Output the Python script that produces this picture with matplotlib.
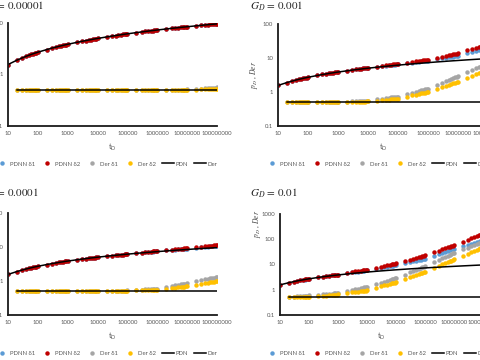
import matplotlib
matplotlib.use("Agg")
import matplotlib.pyplot as plt

plt.rcParams['font.family'] = ['Lato', 'DejaVu Sans']
plt.rcParams['mathtext.fontset'] = 'stix'

# dimensionless time (log spaced, 1..9 x each decade)
t_d = [10, 20, 30, 40, 50, 60, 70, 80, 90,
       100, 200, 300, 400, 500, 600, 700, 800, 900,
       1000, 2000, 3000, 4000, 5000, 6000, 7000, 8000, 9000,
       10000, 20000, 30000, 40000, 50000, 60000, 70000, 80000, 90000,
       100000, 200000, 300000, 400000, 500000, 600000, 700000, 800000, 900000,
       1000000, 2000000, 3000000, 4000000, 5000000, 6000000, 7000000, 8000000, 9000000,
       10000000, 20000000, 30000000, 40000000, 50000000, 60000000, 70000000, 80000000, 90000000,
       100000000]
t_der = t_d[1:]

# analytic solution (black lines)
pdn = [1.56, 1.90, 2.10, 2.25, 2.36, 2.45, 2.53, 2.60, 2.65,
       2.71, 3.05, 3.26, 3.40, 3.51, 3.60, 3.68, 3.75, 3.81,
       3.86, 4.20, 4.41, 4.55, 4.66, 4.75, 4.83, 4.90, 4.96,
       5.01, 5.36, 5.56, 5.70, 5.82, 5.91, 5.98, 6.05, 6.11,
       6.16, 6.51, 6.71, 6.85, 6.97, 7.06, 7.13, 7.20, 7.26,
       7.31, 7.66, 7.86, 8.01, 8.12, 8.21, 8.29, 8.35, 8.41,
       8.46, 8.81, 9.01, 9.16, 9.27, 9.36, 9.44, 9.50, 9.56,
       9.62]
der_line = [0.5] * len(t_der)

# G_D = 0.00001
pdnn1_a = pdn
pdnn2_a = pdn
der1_a = [0.5] * 44 + [0.50, 0.50, 0.50, 0.51, 0.51, 0.51, 0.51, 0.51, 0.51,
                       0.52, 0.53, 0.53, 0.54, 0.54, 0.54, 0.55, 0.55, 0.55, 0.56]
der2_a = [0.5] * 53 + [0.51, 0.51, 0.52, 0.52, 0.52, 0.52, 0.52, 0.53, 0.53, 0.53]

# G_D = 0.0001
pdnn1_b = pdn[:36] + [6.19, 6.59, 6.82, 6.99, 7.12, 7.23, 7.32, 7.40, 7.47,
                      7.53, 7.96, 8.21, 8.39, 8.53, 8.65, 8.75, 8.83, 8.91,
                      8.97, 9.50, 9.81, 10.04, 10.22, 10.36, 10.49, 10.58, 10.68,
                      10.77]
pdnn2_b = pdn[:36] + [6.22, 6.63, 6.87, 7.04, 7.19, 7.29, 7.38, 7.47, 7.54,
                      7.60, 8.08, 8.36, 8.57, 8.73, 8.86, 8.97, 9.06, 9.15,
                      9.22, 9.84, 10.21, 10.48, 10.69, 10.86, 11.01, 11.12, 11.24,
                      11.35]
der1_b = [0.5] * 26 + [0.50, 0.50, 0.51, 0.51, 0.51, 0.51, 0.52, 0.52, 0.52,
                       0.53, 0.55, 0.56, 0.57, 0.58, 0.58, 0.59, 0.59, 0.60,
                       0.60, 0.66, 0.71, 0.74, 0.77, 0.79, 0.81, 0.82, 0.84,
                       0.85, 0.97, 1.05, 1.11, 1.16, 1.20, 1.23, 1.26, 1.29,
                       1.32]
der2_b = [0.5] * 26 + [0.50, 0.50, 0.50, 0.50, 0.51, 0.51, 0.51, 0.51, 0.51,
                       0.52, 0.53, 0.53, 0.54, 0.54, 0.55, 0.55, 0.55, 0.56,
                       0.56, 0.60, 0.62, 0.64, 0.65, 0.66, 0.67, 0.68, 0.69,
                       0.70, 0.78, 0.83, 0.87, 0.90, 0.92, 0.94, 0.96, 0.98,
                       1.00]

# G_D = 0.001
pdnn1_c = [1.56, 1.90, 2.10, 2.25, 2.36, 2.45, 2.53, 2.60, 2.65,
           2.72, 3.07, 3.28, 3.42, 3.54, 3.63, 3.71, 3.78, 3.84,
           3.90, 4.27, 4.50, 4.65, 4.77, 4.87, 4.96, 5.04, 5.10,
           5.16, 5.57, 5.80, 5.97, 6.12, 6.22, 6.31, 6.39, 6.47,
           6.53, 7.06, 7.37, 7.59, 7.78, 7.92, 8.04, 8.15, 8.25,
           8.30, 9.15, 9.69, 10.10, 10.43, 10.70, 10.93, 11.14, 11.33,
           11.50, 13.58, 14.97, 16.04, 16.93, 17.69, 18.35, 18.95, 19.49,
           20.0]
pdnn2_c = [1.56, 1.90, 2.10, 2.25, 2.36, 2.45, 2.53, 2.60, 2.65,
           2.72, 3.07, 3.28, 3.42, 3.54, 3.63, 3.71, 3.78, 3.84,
           3.90, 4.27, 4.50, 4.65, 4.77, 4.87, 4.96, 5.04, 5.10,
           5.16, 5.62, 5.89, 6.08, 6.24, 6.37, 6.46, 6.56, 6.64,
           6.71, 7.35, 7.73, 8.00, 8.23, 8.41, 8.56, 8.69, 8.81,
           8.90, 10.15, 10.97, 11.60, 12.10, 12.52, 12.90, 13.23, 13.54,
           13.80, 16.70, 18.66, 20.20, 21.49, 22.58, 23.56, 24.44, 25.24,
           26.0]
der1_c = [0.5] * 8 + [0.50, 0.50, 0.50, 0.50, 0.51, 0.51, 0.51, 0.51, 0.51,
                      0.51, 0.52, 0.53, 0.54, 0.54, 0.55, 0.55, 0.55, 0.56,
                      0.56, 0.61, 0.64, 0.66, 0.67, 0.69, 0.70, 0.71, 0.72,
                      0.73, 0.86, 0.94, 1.01, 1.06, 1.11, 1.15, 1.19, 1.22,
                      1.25, 1.61, 1.87, 2.07, 2.25, 2.41, 2.55, 2.67, 2.79,
                      2.90, 3.81, 4.48, 5.01, 5.48, 5.88, 6.25, 6.59, 6.90,
                      7.20]
der2_c = [0.5] * 17 + [0.50, 0.50, 0.51, 0.51, 0.52, 0.52, 0.52, 0.52, 0.53,
                       0.53, 0.56, 0.58, 0.59, 0.60, 0.61, 0.62, 0.63, 0.63,
                       0.64, 0.73, 0.79, 0.84, 0.87, 0.91, 0.93, 0.96, 0.98,
                       1.00, 1.23, 1.39, 1.52, 1.62, 1.72, 1.80, 1.87, 1.94,
                       2.00, 2.59, 3.01, 3.34, 3.63, 3.89, 4.12, 4.33, 4.52,
                       4.70]

# G_D = 0.01
pdnn1_d = [1.56, 1.90, 2.11, 2.26, 2.37, 2.46, 2.54, 2.61, 2.67,
           2.72, 3.08, 3.30, 3.45, 3.57, 3.67, 3.75, 3.83, 3.89,
           3.95, 4.49, 4.84, 5.08, 5.27, 5.43, 5.57, 5.70, 5.81,
           5.90, 6.79, 7.37, 7.81, 8.17, 8.48, 8.75, 8.99, 9.21,
           9.40, 11.23, 12.47, 13.43, 14.22, 14.91, 15.51, 16.06, 16.55,
           17.0, 22.5, 26.5, 29.7, 32.5, 35.0, 37.3, 39.3, 41.2,
           43.0, 53.7, 61.2, 67.1, 72.1, 76.4, 80.3, 83.8, 87.0,
           90.0]
pdnn2_d = [1.56, 1.91, 2.12, 2.27, 2.38, 2.48, 2.56, 2.63, 2.69,
           2.75, 3.11, 3.34, 3.50, 3.62, 3.71, 3.80, 3.88, 3.94,
           4.00, 4.63, 5.03, 5.32, 5.55, 5.74, 5.91, 6.06, 6.19,
           6.30, 7.45, 8.22, 8.81, 9.30, 9.72, 10.09, 10.42, 10.72,
           11.0, 13.74, 15.64, 17.15, 18.43, 19.54, 20.53, 21.42, 22.23,
           23.0, 30.4, 35.8, 40.1, 43.9, 47.2, 50.3, 53.0, 55.6,
           58.0, 80.2, 96.9, 110.8, 123.0, 133.9, 143.9, 153.2, 161.9,
           170.0]
der1_d = [0.53, 0.54, 0.55, 0.56, 0.57, 0.57, 0.58, 0.59,
          0.60, 0.64, 0.67, 0.69, 0.70, 0.71, 0.72, 0.73, 0.74,
          0.75, 0.89, 0.98, 1.04, 1.10, 1.15, 1.19, 1.23, 1.27,
          1.30, 1.65, 1.91, 2.11, 2.28, 2.43, 2.56, 2.68, 2.79,
          2.90, 4.01, 4.84, 5.54, 6.15, 6.70, 7.19, 7.66, 8.09,
          8.50, 12.3, 15.3, 17.8, 20.0, 22.1, 24.0, 25.7, 27.4,
          29.0, 39.4, 47.1, 53.4, 58.9, 63.9, 68.4, 72.5, 76.4,
          80.0]
der2_d = [0.50, 0.50, 0.51, 0.51, 0.51, 0.51, 0.52, 0.52,
          0.52, 0.56, 0.58, 0.59, 0.61, 0.62, 0.63, 0.64, 0.64,
          0.65, 0.73, 0.78, 0.82, 0.85, 0.87, 0.90, 0.92, 0.93,
          0.95, 1.19, 1.35, 1.49, 1.60, 1.70, 1.78, 1.86, 1.93,
          2.00, 2.65, 3.13, 3.51, 3.85, 4.14, 4.41, 4.66, 4.89,
          5.10, 7.20, 8.80, 10.15, 11.33, 12.41, 13.40, 14.32, 15.16,
          16.0, 22.3, 27.0, 31.0, 34.5, 37.6, 40.5, 43.2, 45.7,
          48.0]

x_ticks = [10, 100, 1000, 10000, 100000, 1000000, 10000000, 100000000]
x_labels = ['10', '100', '1000', '10000', '100000', '1000000', '10000000', '100000000']
y_ticks = [0.1, 1, 10, 100, 1000]
y_labels = ['0.1', '1', '10', '100', '1000']
names = ['PDNN δ1', 'PDNN δ2', 'Der δ1', 'Der δ2', 'PDN', 'Der']
colors = ['#5B9BD5', '#C00000', '#A5A5A5', '#FFC000']
grey = '#595959'

fig = plt.figure(figsize=(4.8, 3.6), dpi=100)


def panel(rect, title, title_x, title_y, ytop, pd1, pd2, d1, d2, ylab_y, leg_x, leg_y):
    ax = fig.add_axes(rect)
    ax.plot(t_d, pd1, 'o', ms=3.2, color=colors[0], mew=0)
    ax.plot(t_d, pd2, 'o', ms=3.2, color=colors[1], mew=0)
    ax.plot(t_der, d1, 'o', ms=3.2, color=colors[2], mew=0)
    ax.plot(t_der, d2, 'o', ms=3.2, color=colors[3], mew=0)
    ax.plot(t_d, pdn, '-', color='black', lw=1.1)
    ax.plot(t_der, der_line, '-', color='black', lw=1.1)
    ax.set_xscale('log')
    ax.set_yscale('log')
    ax.set_xlim(10, 1e8)
    ax.set_ylim(0.1, ytop)
    ax.set_xticks(x_ticks)
    ax.set_xticklabels(x_labels)
    yt = [v for v in y_ticks if v <= ytop]
    ax.set_yticks(yt)
    ax.set_yticklabels(y_labels[:len(yt)])
    ax.minorticks_off()
    ax.tick_params(length=0, labelsize=4.3, labelcolor=grey, pad=3.5)
    for s in ['top', 'right']:
        ax.spines[s].set_visible(False)
    for s in ['left', 'bottom']:
        ax.spines[s].set_linewidth(1.3)
        ax.spines[s].set_color('#1a1a1a')
    ax.set_xlabel(r'$\mathregular{t_D}$', fontsize=5.5, color=grey, labelpad=4)
    ax.set_ylabel(r'$p_D$ , $Der$', fontsize=5.5, color='#404040', labelpad=3)
    ax.yaxis.set_label_coords(-0.085, ylab_y)
    fig.text(title_x, title_y, r'$G_D$ = ' + title, fontsize=8, family='STIXGeneral',
             color='#222222', ha='left', va='center')
    fig.legend(ax.get_lines(), names, loc='center', bbox_to_anchor=(leg_x, leg_y),
               ncol=6, frameon=False, fontsize=4.3, labelcolor=grey,
               handlelength=2.0, handletextpad=0.3, columnspacing=1.0, borderpad=0)
    return ax


panel([8 / 480, 1 - 126 / 360, 209 / 480, 103 / 360], '0.00001', -20 / 480, 1 - 6 / 360,
      10, pdnn1_a, pdnn2_a, der1_a, der2_a, 0.5, 107 / 480, 1 - 164 / 360)
panel([8 / 480, 45 / 360, 209 / 480, 102 / 360], '0.0001', -20 / 480, 1 - 193 / 360,
      100, pdnn1_b, pdnn2_b, der1_b, der2_b, 0.5, 107 / 480, 1 - 353 / 360)
panel([278 / 480, 1 - 126 / 360, 210 / 480, 102 / 360], '0.001', 250 / 480, 1 - 6 / 360,
      100, pdnn1_c, pdnn2_c, der1_c, der2_c, 0.5, 377 / 480, 1 - 164 / 360)
panel([280 / 480, 45 / 360, 203 / 480, 101 / 360], '0.01', 250 / 480, 1 - 193 / 360,
      1000, pdnn1_d, pdnn2_d, der1_d, der2_d, 0.9, 377 / 480, 1 - 353 / 360)

fig.savefig('out.png', dpi=100)
